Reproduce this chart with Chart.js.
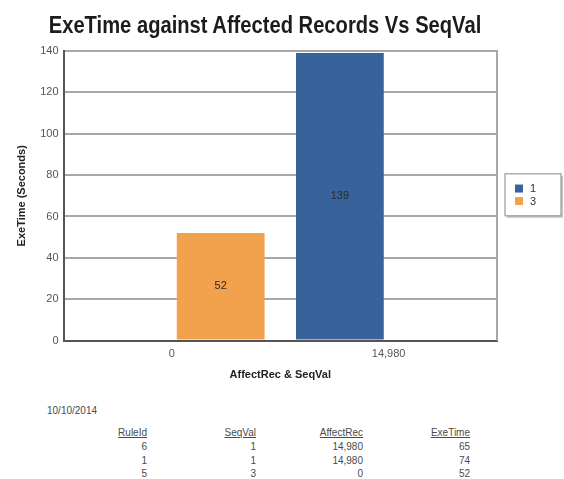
<!DOCTYPE html>
<html>
<head>
<meta charset="utf-8">
<script src="https://cdn.jsdelivr.net/npm/chart.js@4"></script>
<style>
  html, body { margin: 0; padding: 0; background: #fff; }
  #wrap { position: relative; width: 564px; height: 479px; overflow: hidden; font-family: 'Liberation Sans', Arial, sans-serif; }
  #chart { position: absolute; left: 0; top: 0; }
  #title { position: absolute; left: 0; top: 11px; width: 530px; text-align: center; font-weight: bold; font-size: 24px; line-height: 28px; color: #1c1c1c; transform: scaleX(0.84); transform-origin: 265px 0; white-space: nowrap; }
  .t { position: absolute; font-size: 10px; line-height: 12px; color: #4a4a4a; white-space: nowrap; text-align: right; }
  .h { text-decoration: underline; }
</style>
</head>
<body>
<div id="wrap">
  <canvas id="chart" width="564" height="392"></canvas>
  <div id="title">ExeTime against Affected Records Vs SeqVal</div>
  <div id="report"></div>
</div>
<script>
// Chart data
const categories = ['0', '14,980'];
const seriesNames = ['1', '3'];
const seq1Values = [null, 139];
const seq3Values = [52, null];
const seriesColors = ['#37639a', '#f2a14c'];
const yMin = 0, yMax = 140, yStep = 20;

// Report table under the chart
const reportDate = '10/10/2014';
const tableHeaders = ['RuleId', 'SeqVal', 'AffectRec', 'ExeTime'];
const ruleIds = ['6', '1', '5'];
const seqVals = ['1', '1', '3'];
const affectRecs = ['14,980', '14,980', '0'];
const exeTimes = ['65', '74', '52'];

const FONT = "'Liberation Sans', Arial, sans-serif";

// Value printed in the middle of each bar
const barValueLabels = {
  id: 'barValueLabels',
  afterDatasetsDraw(chart) {
    const ctx = chart.ctx;
    ctx.save();
    ctx.font = '11px ' + FONT;
    ctx.fillStyle = '#2a2a2a';
    ctx.textAlign = 'center';
    ctx.textBaseline = 'middle';
    chart.data.datasets.forEach((ds, i) => {
      const meta = chart.getDatasetMeta(i);
      meta.data.forEach((bar, j) => {
        const v = ds.data[j];
        if (v === null || v === undefined) return;
        ctx.fillText(String(v), bar.x, (bar.y + bar.base) / 2);
      });
    });
    ctx.restore();
  }
};

// Right-hand frame line of the plot area
const plotFrame = {
  id: 'plotFrame',
  beforeDatasetsDraw(chart) {
    const { ctx, chartArea: a } = chart;
    ctx.save();
    ctx.strokeStyle = '#a8a8a8';
    ctx.lineWidth = 2;
    ctx.beginPath();
    ctx.moveTo(a.right, a.top - 1);
    ctx.lineTo(a.right, a.bottom);
    ctx.stroke();
    ctx.restore();
  }
};

// Boxed legend to the right of the plot area
const boxedLegend = {
  id: 'boxedLegend',
  afterDraw(chart) {
    const { ctx, chartArea: a } = chart;
    const items = chart.data.datasets;
    const rowH = 12.5;
    const left = a.right + 8;
    const width = 56;
    const height = items.length * rowH + 17;
    const top = (a.top + a.bottom) / 2 - height / 2 - 1;
    ctx.save();
    // shadow
    ctx.fillStyle = '#c8c8c8';
    ctx.fillRect(left + 2, top + 2, width, height);
    ctx.fillStyle = '#ffffff';
    ctx.fillRect(left, top, width, height);
    ctx.strokeStyle = '#9a9a9a';
    ctx.lineWidth = 1.2;
    ctx.strokeRect(left, top, width, height);
    ctx.font = '11px ' + FONT;
    ctx.textBaseline = 'middle';
    ctx.textAlign = 'left';
    items.forEach((ds, i) => {
      const cy = top + 8.5 + rowH / 2 + i * rowH;
      ctx.fillStyle = ds.backgroundColor;
      ctx.fillRect(left + 10, cy - 4, 8, 8);
      ctx.fillStyle = '#333';
      ctx.fillText(ds.label, left + 25, cy + 0.5);
    });
    ctx.restore();
  }
};

new Chart(document.getElementById('chart'), {
  type: 'bar',
  data: {
    labels: categories,
    datasets: [
      { label: seriesNames[0], data: seq1Values, backgroundColor: seriesColors[0] },
      { label: seriesNames[1], data: seq3Values, backgroundColor: seriesColors[1] }
    ]
  },
  options: {
    responsive: false,
    animation: false,
    categoryPercentage: 0.9,
    barPercentage: 0.9,
    layout: { padding: { top: 51, left: 10, right: 67, bottom: 10 } },
    plugins: {
      legend: { display: false },
      title: { display: false },
      tooltip: { enabled: false }
    },
    scales: {
      x: {
        grid: { display: false, drawTicks: false },
        border: { display: true, color: '#555', width: 2 },
        ticks: { color: '#555', font: { family: FONT, size: 11 }, padding: 7 },
        title: { display: true, text: 'AffectRec & SeqVal', color: '#222', font: { family: FONT, size: 11, weight: 'bold' }, padding: { top: 1, bottom: 0 } }
      },
      y: {
        min: yMin,
        max: yMax,
        ticks: { stepSize: yStep, color: '#555', font: { family: FONT, size: 11 }, padding: 5 },
        grid: { color: '#a8a8a8', lineWidth: 2, drawTicks: false },
        border: { display: true, color: '#555', width: 2 },
        title: { display: true, text: 'ExeTime (Seconds)', color: '#222', font: { family: FONT, size: 11, weight: 'bold' }, padding: { top: 5, bottom: 7 } }
      }
    }
  },
  plugins: [plotFrame, barValueLabels, boxedLegend]
});

// Report block: date and right-aligned table columns
(function buildReport() {
  const root = document.getElementById('report');
  const columns = [ruleIds, seqVals, affectRecs, exeTimes];
  const colRight = [147, 256, 363, 470];
  const headerTop = 427, rowTop = 441, rowGap = 13.5;
  const add = (text, cls, style) => {
    const d = document.createElement('div');
    d.className = cls;
    d.textContent = text;
    Object.assign(d.style, style);
    root.appendChild(d);
  };
  add(reportDate, 't', { left: '47px', top: '405px', textAlign: 'left' });
  columns.forEach((col, c) => {
    const right = (564 - colRight[c]) + 'px';
    add(tableHeaders[c], 't h', { right, top: headerTop + 'px' });
    col.forEach((v, r) => add(v, 't', { right, top: (rowTop + r * rowGap) + 'px' }));
  });
})();
</script>
</body>
</html>
